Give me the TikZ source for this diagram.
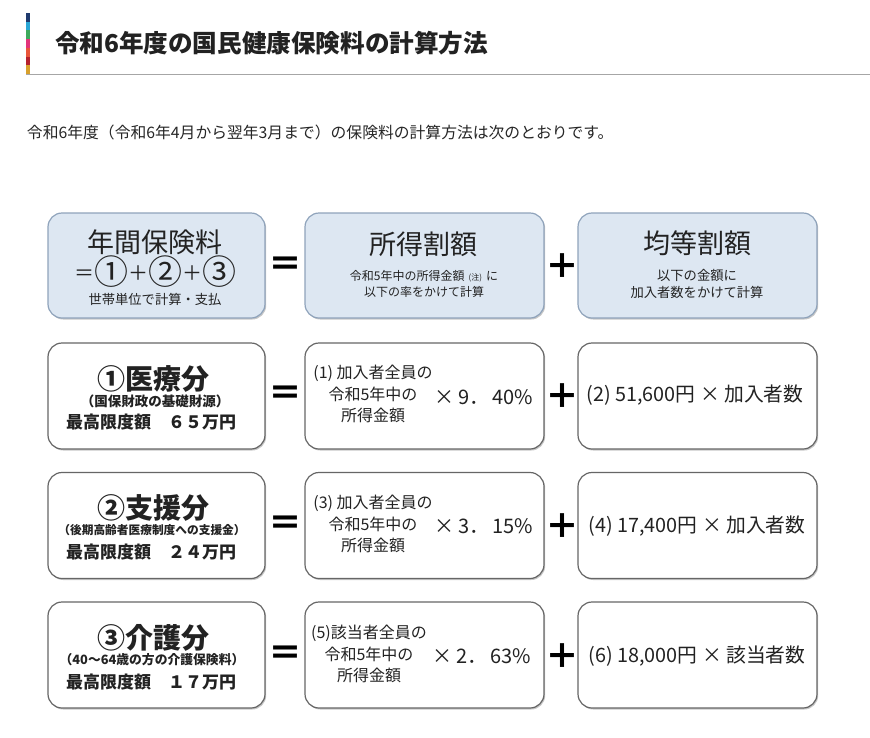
\documentclass[tikz,border=0pt]{standalone}
\usepackage{fontspec}
\setmainfont{Noto Sans CJK JP}
\usetikzlibrary{shadows}
\definecolor{hdrfill}{HTML}{DDE7F2}
\definecolor{hdrline}{HTML}{8FA3BB}
\definecolor{boxline}{HTML}{666666}
\definecolor{txt}{HTML}{222222}
\definecolor{cA}{HTML}{1F3A6E}
\definecolor{cB}{HTML}{2AA7D6}
\definecolor{cC}{HTML}{3DA95C}
\definecolor{cD}{HTML}{E2347A}
\definecolor{cE}{HTML}{E9553A}
\definecolor{cF}{HTML}{B5202E}
\definecolor{cG}{HTML}{D8A02C}
\newcommand{\fs}[1]{\fontsize{#1}{#1}\selectfont}
\newcommand{\bigc}[1]{{\fs{34}#1}}
\newcommand{\opr}[1]{\raisebox{4.5pt}{\fs{20}#1}}
\begin{document}
\begin{tikzpicture}[x=1pt,y=-1pt,
  every node/.style={inner sep=0pt,outer sep=0pt,text=txt},
  boxbase/.style={rounded corners=14pt,line width=1.2pt,
     drop shadow={shadow xshift=1.2pt,shadow yshift=-1.5pt,opacity=.22,fill=black}},
  hbox/.style={boxbase,draw=hdrline,fill=hdrfill,minimum height=105pt},
  rbox/.style={boxbase,draw=boxline,fill=white,minimum height=106pt},
  wA/.style={minimum width=217pt},
  wB/.style={minimum width=239pt},
  sign/.style={font=\bfseries\fs{34},text=black},
  bigt/.style={font=\fs{27}},
  smallt/.style={font=\fs{13.3},align=center},
  rowt/.style={font=\bfseries\fs{28}},
  subt/.style={font=\bfseries\fs{13.5}},
  maxt/.style={font=\bfseries\fs{17}},
  midt/.style={font=\fs{16},align=center},
  ratet/.style={font=\fs{20}},
  rightt/.style={font=\fs{19.8}}
]
\useasboundingbox (0,0) rectangle (870,737);
\fill[white] (0,0) rectangle (870,737);
% header colour bar
\foreach \c [count=\i from 0] in {cA,cB,cC,cD,cE,cF,cG}
  \fill[\c] (26,{13+\i*8.72}) rectangle (30,{13+(\i+1)*8.72});
\coordinate (hl1) at (26,74);
\coordinate (hl2) at (870,74);
\draw[line width=1pt,gray!70] (hl1) -- (hl2);
\node[anchor=west,font=\bfseries\fs{24.6}] (title) at (55,43) {令和6年度の国民健康保険料の計算方法};
\node[anchor=west,font=\fs{15.8},text=black!85] (lead) at (27,132) {令和6年度（令和6年4月から翌年3月まで）の保険料の計算方法は次のとおりです。};

% header row
\node[hbox,wA] (h1) at (156.5,265.5) {};
\node[hbox,wB] (h2) at (424.5,265.5) {};
\node[hbox,wB] (h3) at (697.5,265.5) {};
\node[bigt] (h1a) at (155,242) {年間保険料};
\node[bigt] (h1b) at (155,272) {\opr{＝}\bigc{①}\opr{＋}\bigc{②}\opr{＋}\bigc{③}};
\node[smallt] (h1c) at (155,299) {世帯単位で計算・支払};
\node[bigt] (h2a) at (423,244) {所得割額};
\node[smallt,font=\fs{12}] (h2b) at (424,284) {令和5年中の所得金額\hspace{4pt}{\fs{8}(注)}\hspace{4pt}に\\[4pt]以下の率をかけて計算};
\node[bigt] (h3a) at (697,243) {均等割額};
\node[smallt] (h3b) at (697,284) {以下の金額に\\[3pt]加入者数をかけて計算};
\node[sign] (e0) at (285,267) {＝};
\node[sign] (p0) at (562,266) {＋};

% row 1
\node[rbox,wA] (a1) at (156.5,396) {};
\node[rbox,wB] (b1) at (424.5,396) {};
\node[rbox,wB] (c1) at (697.5,396) {};
\node[rowt] (a1t) at (153,379) {①医療分};
\node[subt] (a1s) at (155,401) {（国保財政の基礎財源）};
\node[maxt] (a1m) at (151,422) {最高限度額　６５万円};
\node[midt] (b1t) at (373,394) {(1) 加入者全員の\\[5pt]令和5年中の\\[5pt]所得金額};
\node[ratet] (b1r) at (484,397) {×\hspace{4pt}9．\hspace{3pt}40\%};
\node[rightt] (c1t) at (695,395) {(2) 51,600円 × 加入者数};
\node[sign] (e1) at (285,396) {＝};
\node[sign] (p1) at (562,396) {＋};

% row 2
\node[rbox,wA] (a2) at (156.5,525.5) {};
\node[rbox,wB] (b2) at (424.5,525.5) {};
\node[rbox,wB] (c2) at (697.5,525.5) {};
\node[rowt] (a2t) at (153,508) {②支援分};
\node[subt,font=\bfseries\fs{11.7}] (a2s) at (152,530) {（後期高齢者医療制度への支援金）};
\node[maxt] (a2m) at (151,552) {最高限度額　２４万円};
\node[midt] (b2t) at (373,524) {(3) 加入者全員の\\[5pt]令和5年中の\\[5pt]所得金額};
\node[ratet] (b2r) at (484,526) {×\hspace{4pt}3．\hspace{3pt}15\%};
\node[rightt] (c2t) at (697,526) {(4) 17,400円 × 加入者数};
\node[sign] (e2) at (285,526) {＝};
\node[sign] (p2) at (562,526) {＋};

% row 3
\node[rbox,wA] (a3) at (156.5,655) {};
\node[rbox,wB] (b3) at (424.5,655) {};
\node[rbox,wB] (c3) at (697.5,655) {};
\node[rowt] (a3t) at (153,638) {③介護分};
\node[subt,font=\bfseries\fs{12.8}] (a3s) at (152,660) {（40～64歳の方の介護保険料）};
\node[maxt] (a3m) at (151,682) {最高限度額　１７万円};
\node[midt] (b3t) at (369,654) {(5)該当者全員の\\[5pt]令和5年中の\\[5pt]所得金額};
\node[ratet] (b3r) at (482,656) {×\hspace{4pt}2．\hspace{3pt}63\%};
\node[rightt] (c3t) at (697,656) {(6) 18,000円 × 該当者数};
\node[sign] (e3) at (285,656) {＝};
\node[sign] (p3) at (562,656) {＋};
\end{tikzpicture}
\end{document}
